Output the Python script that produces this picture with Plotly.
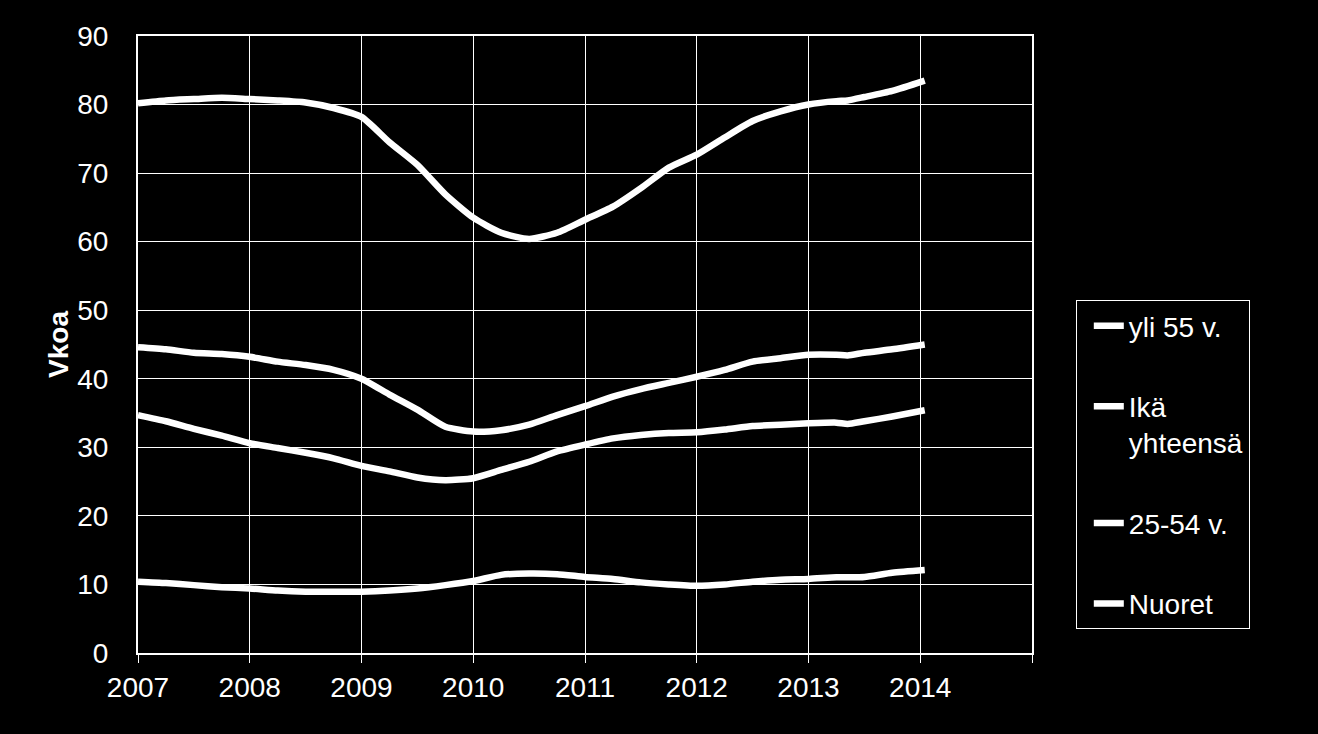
import plotly.graph_objects as go

# Decimal years (quarterly readings) and values
years = [2007.0, 2007.25, 2007.5, 2007.75, 2008.0, 2008.25, 2008.5, 2008.75,
         2009.0, 2009.25, 2009.5, 2009.75, 2010.0, 2010.25, 2010.5, 2010.75,
         2011.0, 2011.25, 2011.5, 2011.75, 2012.0, 2012.25, 2012.5, 2012.75,
         2013.0, 2013.25, 2013.35, 2013.5, 2013.75, 2014.04]

yli55 = [80.2, 80.6, 80.8, 81.0, 80.8, 80.6, 80.3, 79.5,
         78.2, 74.5, 71.2, 66.9, 63.5, 61.3, 60.4, 61.3,
         63.2, 65.1, 67.8, 70.8, 72.7, 75.2, 77.6, 79.0,
         80.0, 80.5, 80.6, 81.1, 82.0, 83.5]

ika_yhteensa = [44.6, 44.3, 43.8, 43.6, 43.2, 42.5, 42.0, 41.3,
                40.0, 37.7, 35.5, 33.0, 32.3, 32.5, 33.3, 34.7,
                36.0, 37.4, 38.5, 39.4, 40.3, 41.3, 42.5, 43.0,
                43.5, 43.5, 43.4, 43.8, 44.3, 45.0]

v25_54 = [34.7, 33.8, 32.7, 31.7, 30.6, 29.9, 29.2, 28.4,
          27.3, 26.5, 25.6, 25.2, 25.5, 26.7, 27.9, 29.4,
          30.4, 31.3, 31.8, 32.1, 32.2, 32.6, 33.1, 33.3,
          33.5, 33.6, 33.4, 33.8, 34.5, 35.4]

nuoret = [10.4, 10.2, 9.9, 9.6, 9.4, 9.1, 8.95, 8.95,
          8.95, 9.1, 9.4, 9.9, 10.5, 11.4, 11.6, 11.5,
          11.1, 10.8, 10.3, 10.0, 9.8, 10.0, 10.4, 10.7,
          10.8, 11.05, 11.05, 11.1, 11.7, 12.1]

series_names = ["yli 55 v.", "Ikä<br>yhteensä", "25-54 v.", "Nuoret"]
series_values = [yli55, ika_yhteensa, v25_54, nuoret]

x_tickvals = [2007, 2008, 2009, 2010, 2011, 2012, 2013, 2014, 2015]
x_ticktext = ["2007", "2008", "2009", "2010", "2011", "2012", "2013", "2014", ""]
y_tickvals = [0, 10, 20, 30, 40, 50, 60, 70, 80, 90]

FONT = "Liberation Sans, Arial, sans-serif"
FS = 28

fig = go.Figure()
for i, (name, vals) in enumerate(zip(series_names, series_values)):
    fig.add_trace(go.Scatter(
        x=years, y=vals, name=name, mode="lines",
        line=dict(color="white", width=6.5, shape="spline", smoothing=0.6),
        legendgroup=f"g{i}",
    ))

fig.update_layout(
    width=1318, height=734,
    paper_bgcolor="black", plot_bgcolor="black",
    margin=dict(l=138, r=286, t=36, b=81),
    font=dict(family=FONT, color="white", size=FS),
    showlegend=True,
    legend=dict(
        x=1.049, xanchor="left", y=0.572, yanchor="top",
        bgcolor="black", bordercolor="white", borderwidth=1,
        font=dict(family=FONT, size=FS, color="white"),
        tracegroupgap=41, valign="top",
        indentation=12,
    ),
    xaxis=dict(
        range=[2007, 2015], tickvals=x_tickvals, ticktext=x_ticktext,
        showgrid=True, gridcolor="white", gridwidth=1,
        showline=True, linecolor="white", linewidth=2, mirror=True,
        ticks="outside", ticklen=8, tickcolor="white", tickwidth=1,
        tickfont=dict(family=FONT, size=FS, color="white"),
        zeroline=False,
    ),
    yaxis=dict(
        range=[0, 90], tickvals=y_tickvals,
        showgrid=True, gridcolor="white", gridwidth=1,
        showline=True, linecolor="white", linewidth=2, mirror=True,
        ticks="", ticklabelstandoff=22,
        tickfont=dict(family=FONT, size=FS, color="white"),
        title=dict(text="<b>Vkoa</b>", font=dict(family=FONT, size=FS, color="white"), standoff=0),
        zeroline=False,
    ),
)

fig.write_html("out.html")
